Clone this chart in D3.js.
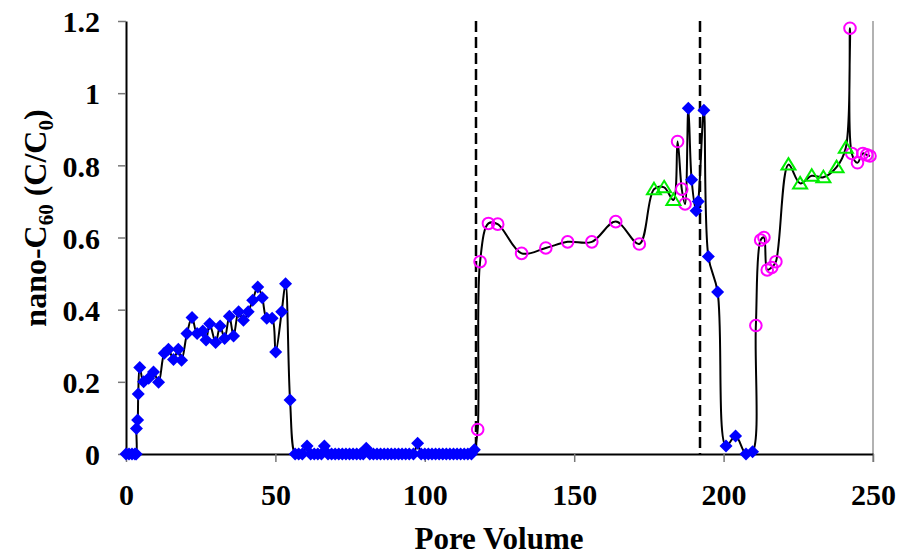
<!DOCTYPE html>
<html>
<head>
<meta charset="utf-8">
<script src="https://cdn.jsdelivr.net/npm/d3@7"></script>
<style>
  body { margin: 0; background: #fff; }
  svg { display: block; }
  text { font-family: "Liberation Serif", "Times New Roman", serif; font-weight: bold; fill: #000; }
</style>
</head>
<body>
<svg id="chart"></svg>
<script>
// Constants for dimensions
const width = 903;
const height = 557;
const margin = { top: 21, right: 30, bottom: 103, left: 126 };

// Blue diamonds
const diamondX = [0, 1, 2, 3, 3.4, 3.5, 3.9, 4.1, 4.6, 5.9, 7.6, 9.2, 10.9, 12.8, 14.2, 15.9, 17.5, 18.6,
  20.4, 22.1, 23.8, 25.7, 26.8, 28.0, 30.0, 31.5, 33.0, 34.6, 36.0, 37.7, 39.3, 40.9, 42.4, 44.1, 45.6,
  47.1, 48.9, 50.1, 52.1, 53.4, 54.9, 56.6, 57.8, 59.0, 60.6, 61.8, 63.0, 64.2, 65.4, 66.4, 67.6, 68.8,
  70.0, 71.2, 72.4, 73.6, 74.8, 76.0, 77.2, 78.4, 79.4, 80.4, 81.6, 82.8, 84.0, 85.2, 86.4, 87.6, 88.8,
  90.0, 91.2, 92.4, 93.6, 94.8, 96.2, 97.6, 98.8, 100.0, 101.2, 102.4, 103.6, 104.8, 106.0, 107.2,
  108.4, 109.6, 110.8, 112.0, 113.2, 114.4, 115.6, 116.6,
  188.2, 189.3, 190.8, 191.5, 193.4, 194.9, 198.0, 200.8, 204.0, 207.5, 209.7];
const diamondY = [0, 0, 0, 0, 0, 0.071, 0.094, 0.166, 0.24, 0.2, 0.21, 0.227, 0.199, 0.279, 0.29, 0.262, 0.29, 0.26,
  0.334, 0.378, 0.334, 0.341, 0.316, 0.361, 0.309, 0.355, 0.32, 0.382, 0.327, 0.394, 0.371, 0.394, 0.426, 0.463, 0.433,
  0.376, 0.376, 0.283, 0.394, 0.472, 0.15, 0, 0, 0, 0.022, 0, 0, 0, 0, 0.022, 0, 0,
  0, 0, 0, 0, 0, 0, 0, 0, 0, 0.016, 0, 0, 0, 0, 0, 0, 0,
  0, 0, 0, 0, 0, 0, 0.03, 0, 0, 0, 0, 0, 0, 0, 0,
  0, 0, 0, 0, 0, 0, 0, 0.012,
  0.958, 0.76, 0.674, 0.70, 0.953, 0.547, 0.449, 0.022, 0.05, 0, 0.006];

// Magenta circles
const circleX = [117.7, 118.5, 121.3, 124.4, 132.4, 140.5, 147.8, 155.9, 163.9, 171.8, 184.6, 186.0, 187.1,
  210.8, 212.4, 213.5, 214.6, 216.1, 217.5, 242.3, 242.9, 244.8, 246.6, 247.9, 249.0];
const circleY = [0.068, 0.533, 0.639, 0.637, 0.556, 0.571, 0.588, 0.588, 0.644, 0.582, 0.866, 0.734, 0.693,
  0.356, 0.593, 0.6, 0.51, 0.517, 0.533, 1.18, 0.833, 0.807, 0.833, 0.829, 0.826];

// Green triangles
const triangleX = [176.7, 180.1, 183.2, 221.7, 225.6, 229.5, 233.4, 237.8, 240.9];
const triangleY = [0.734, 0.739, 0.704, 0.802, 0.75, 0.771, 0.767, 0.795, 0.849];

// Dashed separators
const dividers = [117, 192];

const xTicks = [0, 50, 100, 150, 200, 250];
const yTicks = [0, 0.2, 0.4, 0.6, 0.8, 1, 1.2];

const svg = d3.select("#chart")
  .attr("width", width)
  .attr("height", height);

// Scale setup
const xScale = d3.scaleLinear().domain([0, 250]).range([margin.left, width - margin.right]);
const yScale = d3.scaleLinear().domain([0, 1.2]).range([height - margin.bottom, margin.top]);

// right border
svg.append("line")
  .attr("x1", xScale(250)).attr("x2", xScale(250))
  .attr("y1", yScale(1.2)).attr("y2", yScale(0) + 8)
  .attr("stroke", "#999").attr("stroke-width", 1.5);

// Axes
const xAxis = svg.append("g")
  .attr("transform", `translate(0, ${yScale(0)})`)
  .call(d3.axisBottom(xScale).tickValues(xTicks).tickSize(8).tickSizeOuter(0).tickFormat(d3.format("d")));
xAxis.select(".domain").attr("stroke", "#000").attr("stroke-width", 1.8);
xAxis.selectAll(".tick line").attr("stroke", "#777").attr("stroke-width", 1.5);
xAxis.selectAll(".tick text")
  .attr("y", 51).attr("dy", 0)
  .style("font-size", "30px");

const yAxis = svg.append("g")
  .attr("transform", `translate(${xScale(0)}, 0)`)
  .call(d3.axisLeft(yScale).tickValues(yTicks).tickSize(8).tickSizeOuter(0).tickPadding(18).tickFormat(d => d3.format("")(+d.toFixed(1))));
yAxis.select(".domain").attr("stroke", "#000").attr("stroke-width", 2);
yAxis.selectAll(".tick line").attr("stroke", "#777").attr("stroke-width", 1.5);
yAxis.selectAll(".tick text")
  .attr("dy", "0.36em")
  .style("font-size", "30px");

// Axis titles
svg.append("text")
  .attr("x", 499).attr("y", 549)
  .attr("text-anchor", "middle")
  .style("font-size", "31px")
  .text("Pore Volume");

const yTitle = svg.append("text")
  .attr("transform", "translate(46, 218) rotate(-90)")
  .attr("text-anchor", "middle")
  .style("font-size", "32px");
yTitle.append("tspan").text("nano-C");
yTitle.append("tspan").attr("dy", 7).style("font-size", "21px").text("60");
yTitle.append("tspan").attr("dy", -7).text(" (C/C");
yTitle.append("tspan").attr("dy", 7).style("font-size", "21px").text("0");
yTitle.append("tspan").attr("dy", -7).text(")");

// Dashed separators
svg.selectAll(".divider")
  .data(dividers)
  .enter()
  .append("line")
  .attr("class", "divider")
  .attr("x1", d => Math.round(xScale(d))).attr("x2", d => Math.round(xScale(d)))
  .attr("y1", yScale(1.2)).attr("y2", yScale(0))
  .attr("stroke", "#000").attr("stroke-width", 2.5)
  .attr("stroke-dasharray", "11,5");

// One smoothed line through all points in order of pore volume
const allPoints = [];
diamondX.forEach((x, i) => allPoints.push([x, diamondY[i]]));
circleX.forEach((x, i) => allPoints.push([x, circleY[i]]));
triangleX.forEach((x, i) => allPoints.push([x, triangleY[i]]));
allPoints.sort((a, b) => a[0] - b[0]);

const line = d3.line()
  .x(d => xScale(d[0]))
  .y(d => yScale(d[1]))
  .curve(d3.curveCatmullRom.alpha(0.5));

svg.append("path")
  .datum(allPoints)
  .attr("d", line)
  .attr("fill", "none")
  .attr("stroke", "#000")
  .attr("stroke-width", 2);

// Draw diamonds
const dr = 6.5;
svg.selectAll(".diamond")
  .data(diamondX.map((x, i) => [x, diamondY[i]]))
  .enter()
  .append("path")
  .attr("class", "diamond")
  .attr("d", `M0,${-dr}L${dr},0L0,${dr}L${-dr},0Z`)
  .attr("transform", d => `translate(${xScale(d[0])},${yScale(d[1])})`)
  .attr("fill", "#0000ff");

// Draw circles
svg.selectAll(".circle")
  .data(circleX.map((x, i) => [x, circleY[i]]))
  .enter()
  .append("circle")
  .attr("class", "circle")
  .attr("cx", d => xScale(d[0]))
  .attr("cy", d => yScale(d[1]))
  .attr("r", 5.8)
  .attr("fill", "none")
  .attr("stroke", "#ff00ff")
  .attr("stroke-width", 2);

// Draw triangles
svg.selectAll(".triangle")
  .data(triangleX.map((x, i) => [x, triangleY[i]]))
  .enter()
  .append("path")
  .attr("class", "triangle")
  .attr("d", "M0,-6.5L7,5L-7,5Z")
  .attr("transform", d => `translate(${xScale(d[0])},${yScale(d[1])})`)
  .attr("fill", "none")
  .attr("stroke", "#00ee00")
  .attr("stroke-width", 2);
</script>
</body>
</html>
